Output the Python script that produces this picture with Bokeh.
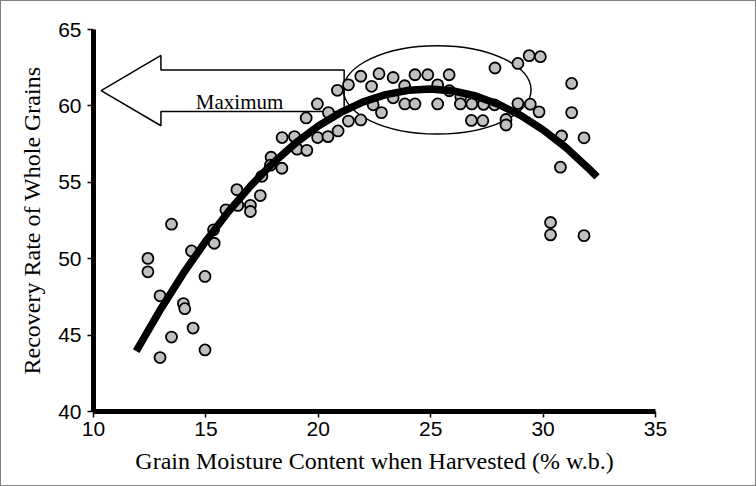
from bokeh.plotting import figure
from bokeh.models import Range1d, FixedTicker
from bokeh.core.properties import value
from bokeh.embed import file_html
from bokeh.resources import INLINE

# ---- data ----
moisture = [13.47, 12.42, 12.42, 14.36, 15.34, 15.37, 14.96, 12.96, 14.00, 14.06,
            14.43, 13.47, 14.96, 12.96, 15.89, 16.42, 16.98, 16.98, 16.38, 17.42,
            17.49, 17.90, 17.87, 18.38, 18.39, 18.94, 19.97, 20.43, 20.88, 19.06,
            19.49, 19.46, 19.96, 20.45, 20.85, 21.34, 21.89, 22.70, 23.33, 22.37,
            21.34, 21.89, 22.81, 22.44, 23.33, 23.84, 23.85, 24.30, 24.87, 24.30,
            25.31, 25.82, 25.83, 25.31, 26.34, 26.32, 26.83, 27.35, 27.84, 26.81,
            27.32, 28.35, 28.35, 27.86, 28.88, 29.38, 29.88, 28.88, 29.43, 29.82,
            31.27, 31.27, 30.82, 31.82, 30.77, 30.33, 30.33, 31.82]
recovery = [52.26, 50.02, 49.14, 50.51, 51.89, 51.01, 48.84, 47.57, 47.06, 46.73,
            45.46, 44.87, 44.03, 43.53, 53.20, 53.49, 53.49, 53.09, 54.52, 54.13,
            55.39, 56.64, 56.12, 55.92, 57.93, 57.99, 57.93, 57.99, 58.36, 57.17,
            57.09, 59.21, 60.13, 59.56, 61.02, 61.38, 61.94, 62.11, 61.86, 61.28,
            59.01, 59.08, 59.56, 60.07, 60.53, 61.32, 60.13, 62.04, 62.04, 60.13,
            61.38, 62.04, 60.99, 60.13, 60.59, 60.13, 60.13, 60.10, 60.07, 59.05,
            59.03, 59.11, 58.75, 62.48, 62.78, 63.29, 63.22, 60.15, 60.11, 59.61,
            61.47, 59.56, 58.03, 57.91, 55.99, 52.37, 51.56, 51.51]

trend_x = [11.9, 13, 14, 15, 16, 17, 18, 19, 20, 21, 22, 23, 24, 25, 26, 27,
           28, 29, 30, 31, 32, 32.4]
trend_y = [43.95, 46.73, 49.05, 51.16, 53.07, 54.78, 56.28, 57.58, 58.68, 59.57,
           60.26, 60.74, 61.02, 61.10, 60.98, 60.65, 60.11, 59.38, 58.43, 57.29,
           55.94, 55.35]

x_ticks = [10, 15, 20, 25, 30, 35]
y_ticks = [40, 45, 50, 55, 60, 65]

# annotation (arrow pointing at the maximum, ellipse around the top cluster)
arrow_x = [10.34, 13.0, 13.0, 21.15, 21.15, 13.0, 13.0]
arrow_y = [61.0, 63.3, 62.35, 62.35, 59.63, 59.63, 58.7]
ellipse_center = (25.29, 61.05)
ellipse_size = (8.35, 5.79)
label_text = "Maximum"
label_pos = (16.5, 60.28)

# canvas is 754x484 inside a 1px page border -> 756x486 overall
LEFT, RIGHT, TOP, BOTTOM = 92, 102, 28, 76
W, H = 754, 484

p = figure(width=W, height=H, output_backend="svg", toolbar_location=None,
           x_range=Range1d(10, 35), y_range=Range1d(40, 65),
           min_border_left=LEFT, min_border_right=RIGHT, min_border_top=TOP,
           min_border_bottom=BOTTOM)
p.styles = {"border": "1px solid #7f7f7f", "box-sizing": "content-box"}
p.outline_line_color = None
p.xgrid.visible = False
p.ygrid.visible = False
p.background_fill_color = "white"
p.border_fill_color = "white"

for ax, ticks in ((p.xaxis[0], x_ticks), (p.yaxis[0], y_ticks)):
    ax.ticker = FixedTicker(ticks=ticks)
    ax.axis_line_width = 5
    ax.axis_line_color = "black"
    ax.major_tick_in = 0
    ax.major_tick_out = 6
    ax.major_tick_line_width = 1.5
    ax.major_tick_line_color = "black"
    ax.minor_tick_line_color = None
    ax.major_label_text_font = "Liberation Sans"
    ax.major_label_text_font_size = "21px"
    ax.major_label_text_color = "black"
    ax.axis_label_text_font = "Liberation Serif"
    ax.axis_label_text_font_style = "normal"
    ax.axis_label_text_font_size = "24px"
    ax.axis_label_text_color = "black"

p.xaxis.axis_label = "Grain Moisture Content when Harvested (% w.b.)"
p.yaxis.axis_label = "Recovery Rate of Whole Grains"
p.xaxis.major_label_standoff = 4
p.yaxis.major_label_standoff = 6
p.xaxis.axis_label_standoff = 9
p.yaxis.axis_label_standoff = 10

p.patch(arrow_x, arrow_y, fill_color="white", line_color="black", line_width=1.5)
p.ellipse(x=[ellipse_center[0]], y=[ellipse_center[1]],
          width=[ellipse_size[0]], height=[ellipse_size[1]],
          fill_color=None, line_color="black", line_width=1.5)
p.scatter(moisture, recovery, marker="circle", size=11, fill_color="#c0c0c0",
          line_color="black", line_width=1.8)
p.line(trend_x, trend_y, line_color="black", line_width=7.5, line_cap="butt")
p.text(x=[label_pos[0]], y=[label_pos[1]], text=[label_text],
       text_font=value("Liberation Serif"), text_font_size="21px",
       text_align="center", text_baseline="alphabetic", text_color="black")

open("out.html", "w").write(file_html(p, INLINE))
